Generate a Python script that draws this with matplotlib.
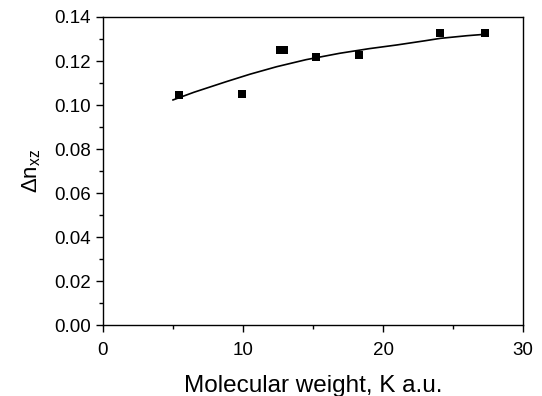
import matplotlib.pyplot as plt
from matplotlib.ticker import MultipleLocator

plt.rcParams['font.family'] = ['Liberation Sans', 'DejaVu Sans']
plt.rcParams['mathtext.fontset'] = 'custom'
plt.rcParams['mathtext.rm'] = 'Liberation Sans'

# measured points
mw = [5.4, 9.9, 12.65, 12.9, 15.2, 18.3, 24.1, 27.3]
dn = [0.1045, 0.105, 0.1248, 0.1248, 0.1218, 0.1229, 0.1329, 0.1329]

# fitted curve
fit_x = [5.0, 6.5, 8.8, 10.5, 12.4, 14.5, 16.9, 19.0, 21.0, 23.0, 24.1, 26.0, 27.4]
fit_y = [0.1023, 0.1058, 0.1106, 0.1140, 0.1174, 0.1206, 0.1235, 0.1256, 0.1273, 0.1292, 0.1303, 0.1315, 0.1322]

fig = plt.figure(figsize=(5.42, 3.96), dpi=100)
ax = fig.add_axes([103/542, 1 - 325/396, 420/542, 308/396])

ax.plot(fit_x, fit_y, color='black', linewidth=1.2)
ax.plot(mw, dn, 's', color='black', markersize=5.5, markeredgewidth=0)

ax.set_xlim(0, 30)
ax.set_ylim(0, 0.14)
ax.xaxis.set_major_locator(MultipleLocator(10))
ax.xaxis.set_minor_locator(MultipleLocator(5))
ax.yaxis.set_major_locator(MultipleLocator(0.02))
ax.yaxis.set_minor_locator(MultipleLocator(0.01))
ax.yaxis.set_major_formatter(plt.FormatStrFormatter('%.2f'))

ax.tick_params(which='major', direction='out', length=5, width=1, labelsize=13.5)
ax.tick_params(axis='x', which='major', pad=7)
ax.tick_params(which='minor', direction='out', length=3, width=1)
for s in ax.spines.values():
    s.set_linewidth(1)

ax.set_xlabel('Molecular weight, K a.u.', fontsize=17.5, labelpad=12)
ax.set_ylabel(r'$\Delta$n$_{\mathrm{xz}}$', fontsize=16, labelpad=8)

fig.savefig('out.png', dpi=100)
